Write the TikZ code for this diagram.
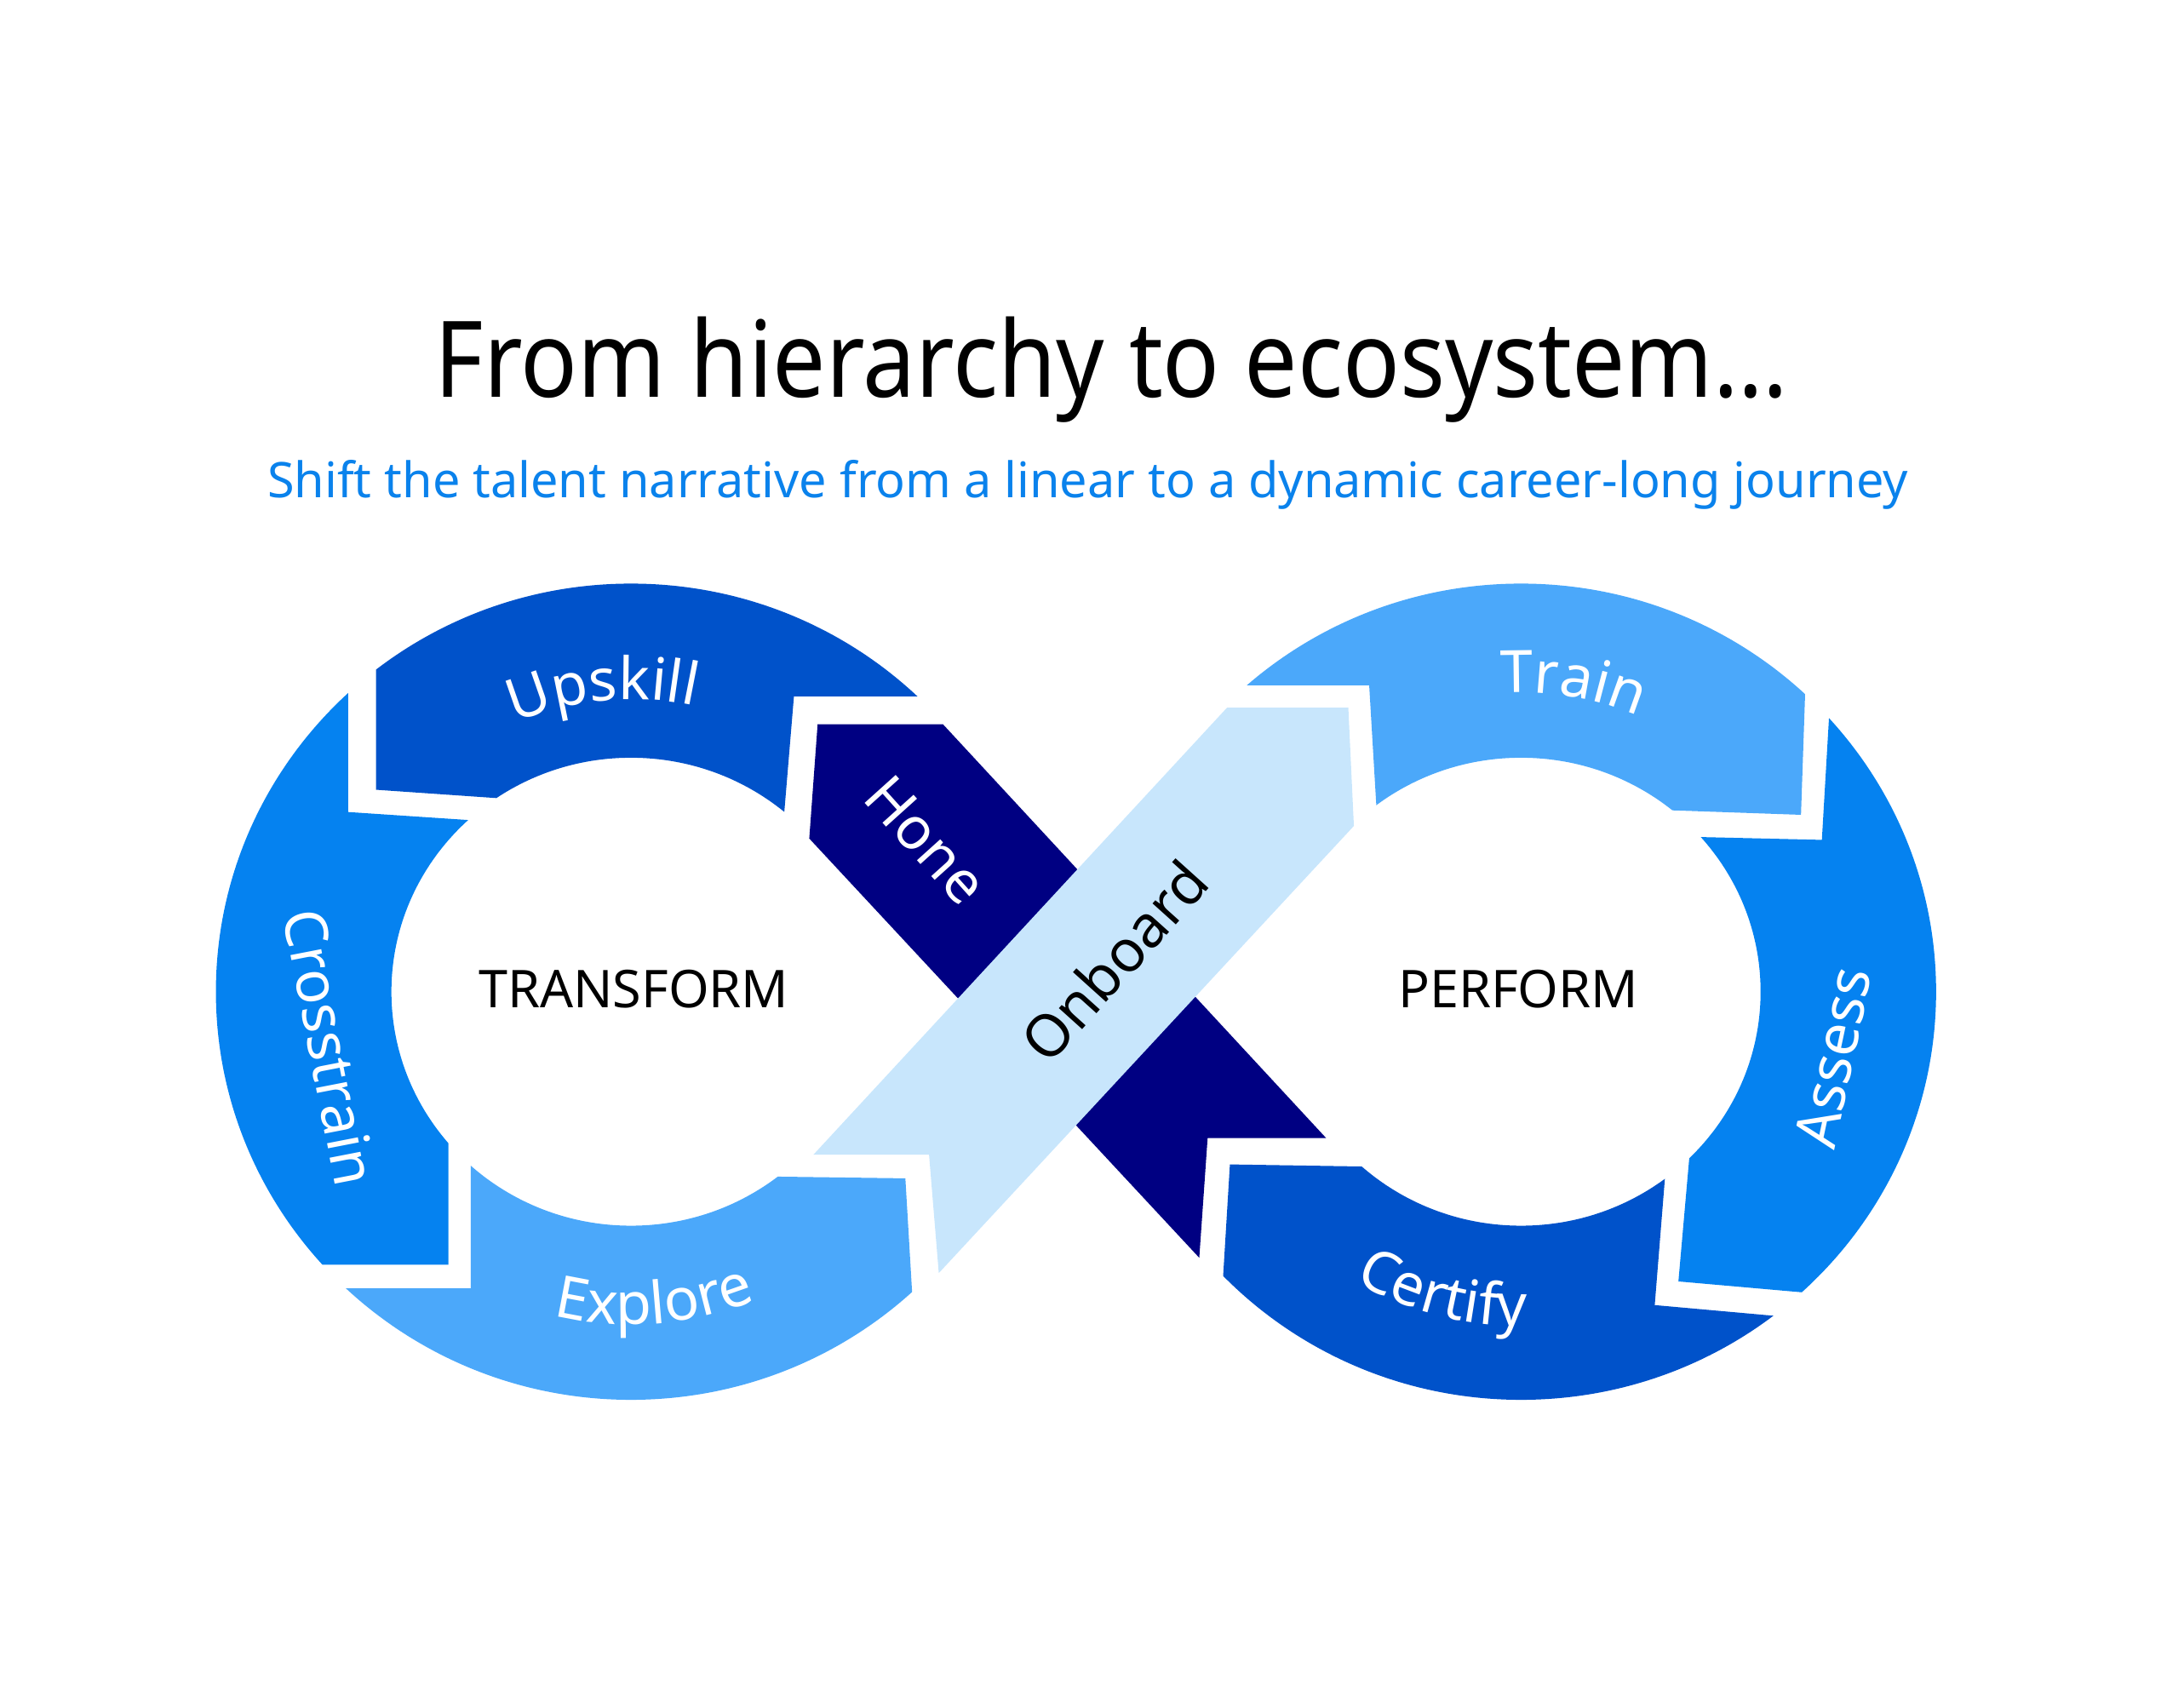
\documentclass[tikz,border=0pt]{standalone}
\usepackage{fontspec}
\setmainfont{Noto Sans}
\newfontfamily\titlefont[FakeStretch=0.89]{Noto Sans}
\usetikzlibrary{calc, decorations.text}

\definecolor{deepblue}{HTML}{0052CA}
\definecolor{midblue}{HTML}{0582F0}
\definecolor{skyblue}{HTML}{4BA8FA}
\definecolor{navyblue}{HTML}{000082}
\definecolor{paleblue}{HTML}{C8E6FC}
\definecolor{subblue}{HTML}{0A82EC}

\begin{document}
\begin{tikzpicture}[
        x=0.5pt, y=0.5pt,
        loopseg/.style={even odd rule},
        lbl/.style={font=\fontsize{21}{21}\selectfont, text=white, inner sep=0pt},
        hub/.style={font=\fontsize{18.7}{18.7}\selectfont, inner sep=0pt},
        arclbl/.style={
            decorate,
            decoration={
                text along path,
                text align=center,
                text color=white,
                text={|\fontsize{21}{21}\selectfont|#1}
            }
        }
    ]

    % --- CANVAS ---
    \useasboundingbox (0,0) rectangle (1568,-1226);
    \coordinate (lc) at (453,-712);
    \coordinate (rc) at (1092,-712);

    % --- TITLE ---
    \node[font=\titlefont\fontsize{38}{38}\selectfont, anchor=base] (title) at (798,-285)
        {From hierarchy to ecosystem…};
    \node[font=\fontsize{17.6}{17.6}\selectfont, text=subblue, anchor=base] (subtitle) at (781,-357)
        {Shift the talent narrative from a linear to a dynamic career-long journey};

    % --- LEFT LOOP ---
    \begin{scope}
        \clip (270,-380) -- (270,-567) -- (400,-576) -- (lc) -- (560,-620) -- (570,-500)
            -- (760,-500) -- (760,-380) -- cycle;
        \fill[deepblue, loopseg] (lc) ellipse [x radius=298, y radius=293]
            (lc) ellipse [x radius=172, y radius=168];
    \end{scope}
    \begin{scope}
        \clip (100,-380) -- (250,-380) -- (250,-583) -- (400,-593) -- (lc) -- (322,-790)
            -- (322,-908) -- (100,-908) -- cycle;
        \fill[midblue, loopseg] (lc) ellipse [x radius=298, y radius=293]
            (lc) ellipse [x radius=172, y radius=168];
    \end{scope}
    \begin{scope}
        \clip (100,-925) -- (338,-925) -- (338,-800) -- (lc) -- (500,-844) -- (650,-846)
            -- (665,-1100) -- (100,-1100) -- cycle;
        \fill[skyblue, loopseg] (lc) ellipse [x radius=298, y radius=293]
            (lc) ellipse [x radius=172, y radius=168];
    \end{scope}

    % --- CROSSING ---
    \fill[navyblue] (587,-520) -- (677,-520) -- (952,-817) -- (867,-817) -- (861,-903)
        -- (581,-602) -- cycle;
    \fill[paleblue] (584,-829) -- (667,-829) -- (674,-914) -- (972,-593) -- (968,-508)
        -- (881,-508) -- cycle;

    % --- RIGHT LOOP ---
    \begin{scope}
        \clip (850,-380) -- (850,-492) -- (983,-492) -- (990,-610) -- (rc) -- (1150,-580)
            -- (1293,-585) -- (1300,-380) -- cycle;
        \fill[skyblue, loopseg] (rc) ellipse [x radius=298, y radius=293]
            (rc) ellipse [x radius=172, y radius=168];
    \end{scope}
    \begin{scope}
        \clip (1321,-380) -- (1308,-603) -- (1180,-600) -- (rc) -- (1216,-795) -- (1205,-920)
            -- (1500,-946) -- (1500,-380) -- cycle;
        \fill[midblue, loopseg] (rc) ellipse [x radius=298, y radius=293]
            (rc) ellipse [x radius=172, y radius=168];
    \end{scope}
    \begin{scope}
        \clip (1500,-965) -- (1188,-937) -- (1197,-825) -- (rc) -- (1010,-838) -- (883,-836)
            -- (867,-1100) -- (1500,-1100) -- cycle;
        \fill[deepblue, loopseg] (rc) ellipse [x radius=298, y radius=293]
            (rc) ellipse [x radius=172, y radius=168];
    \end{scope}

    % --- LABELS ---
    \path[arclbl=Upskill] ($(lc)+(150.4:210)$) arc [start angle=150.4, end angle=40.4, radius=210];
    \path[arclbl=Explore] ($(lc)+(219.3:239)$) arc [start angle=219.3, end angle=329.3, radius=239];
    \path[arclbl=Train] ($(rc)+(135.4:215)$) arc [start angle=135.4, end angle=25.4, radius=215];
    \path[arclbl=Certify] ($(rc)+(200.5:240)$) arc [start angle=200.5, end angle=310.5, radius=240];

    \node[lbl, rotate=-79] (crosstrain) at (237,-752) {Crosstrain};
    \node[lbl, rotate=78] (assess) at (1316,-759) {Assess};
    \node[lbl, rotate=-48] (hone) at (665,-603) {Hone};
    \node[lbl, text=black, rotate=48] (onboard) at (800,-690) {Onboard};

    \node[hub] (transform) at (455,-710) {TRANSFORM};
    \node[hub] (perform) at (1090,-710) {PERFORM};

\end{tikzpicture}
\end{document}
